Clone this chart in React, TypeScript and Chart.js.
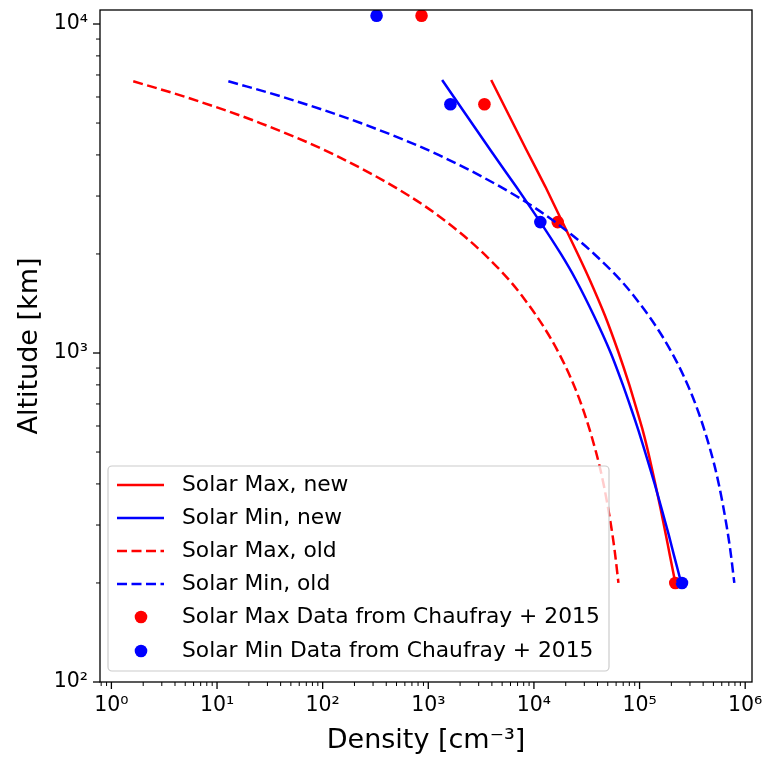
import React, { useEffect, useRef } from 'react';
import { Chart, registerables } from 'chart.js';

Chart.register(...registerables);

const FONT = "'DejaVu Sans', 'Liberation Sans', sans-serif";

// Model curves (altitude in km, density in cm^-3)
const altitudesOld = [200, 250, 300, 400, 500, 700, 1000, 1500, 2000, 2500, 3000, 4000, 5000, 6000, 6700];
const solarMaxOld = [63100, 58200, 53600, 45600, 38700, 28000, 17200, 7610, 3370, 1495, 663, 130, 25.6, 5.03, 1.61];
const solarMinOld = [789000, 725000, 665000, 562000, 474000, 338000, 203000, 86900, 37200, 15900, 6800, 1250, 229, 41.9, 12.8];

const altitudesNew = [200, 243, 280, 333, 400, 490, 580, 671, 800, 1007, 1300, 1667, 2000, 2500, 3200, 4140, 6760];
const solarMaxNew = [218000, 193500, 177500, 159000, 141000, 122500, 107500, 94200, 80000, 63000, 47000, 33800, 26000, 18600, 12850, 8500, 3940];
const solarMinNew = [248000, 211500, 189000, 163000, 139000, 115000, 97900, 84100, 69500, 52900, 36900, 25000, 18000, 11500, 6800, 3870, 1352];

// Chaufray et al. 2015 data points
const altitudesData = [200, 2500, 5700, 10600];
const solarMaxData = [218000, 16800, 3400, 863];
const solarMinData = [252000, 11500, 1620, 324];

// Axis ticks
const xTickValues = [1, 10, 100, 1000, 10000, 100000, 1000000];
const xTickLabels = ['10⁰', '10¹', '10²', '10³', '10⁴', '10⁵', '10⁶'];
const yTickValues = [100, 1000, 10000];
const yTickLabels = ['10²', '10³', '10⁴'];

const legendLabels = [
  'Solar Max, new',
  'Solar Min, new',
  'Solar Max, old',
  'Solar Min, old',
  'Solar Max Data from Chaufray + 2015',
  'Solar Min Data from Chaufray + 2015',
];

const RED = '#ff0000';
const BLUE = '#0000ff';
const DASH = [10, 4.5];

const toPoints = (xs: number[], ys: number[]) =>
  xs.map((x, i) => ({ x, y: ys[i] })).sort((a, b) => a.x - b.x);

const framePlugin = {
  id: 'frameAndLegend',
  afterDraw(chart: any) {
    const { ctx, chartArea } = chart;
    const { left, right, top, bottom } = chartArea;
    const xs = chart.scales.x;
    const ys = chart.scales.y;
    ctx.save();
    ctx.strokeStyle = '#000';
    ctx.lineWidth = 1.3;
    ctx.strokeRect(left, top, right - left, bottom - top);

    // x ticks
    for (let d = -1; d <= 6; d++) {
      for (let k = 1; k <= 9; k++) {
        const v = k * Math.pow(10, d);
        const px = xs.getPixelForValue(v);
        if (px < left - 0.5 || px > right + 0.5) continue;
        const len = k === 1 ? 7 : 4;
        ctx.lineWidth = k === 1 ? 1.3 : 1;
        ctx.beginPath();
        ctx.moveTo(px, bottom);
        ctx.lineTo(px, bottom + len);
        ctx.stroke();
      }
    }
    // y ticks
    for (let d = 2; d <= 4; d++) {
      for (let k = 1; k <= 9; k++) {
        const v = k * Math.pow(10, d);
        const py = ys.getPixelForValue(v);
        if (py < top - 0.5 || py > bottom + 0.5) continue;
        const len = k === 1 ? 7 : 4;
        ctx.lineWidth = k === 1 ? 1.3 : 1;
        ctx.beginPath();
        ctx.moveTo(left, py);
        ctx.lineTo(left - len, py);
        ctx.stroke();
      }
    }

    // legend
    const bx = left + 8;
    const bw = 501;
    const bh = 205;
    const by = bottom - 11 - bh;
    const r = 4;
    ctx.beginPath();
    ctx.moveTo(bx + r, by);
    ctx.lineTo(bx + bw - r, by);
    ctx.arcTo(bx + bw, by, bx + bw, by + r, r);
    ctx.lineTo(bx + bw, by + bh - r);
    ctx.arcTo(bx + bw, by + bh, bx + bw - r, by + bh, r);
    ctx.lineTo(bx + r, by + bh);
    ctx.arcTo(bx, by + bh, bx, by + bh - r, r);
    ctx.lineTo(bx, by + r);
    ctx.arcTo(bx, by, bx + r, by, r);
    ctx.closePath();
    ctx.fillStyle = 'rgba(255,255,255,0.8)';
    ctx.fill();
    ctx.strokeStyle = '#cccccc';
    ctx.lineWidth = 1.2;
    ctx.stroke();

    const colors = [RED, BLUE, RED, BLUE, RED, BLUE];
    ctx.font = `21.8px ${FONT}`;
    ctx.textBaseline = 'middle';
    ctx.textAlign = 'left';
    for (let i = 0; i < legendLabels.length; i++) {
      const cy = by + 19 + i * 33 + (i === 5 ? 1 : 0);
      ctx.strokeStyle = colors[i];
      ctx.fillStyle = colors[i];
      if (i < 4) {
        ctx.lineWidth = 2.5;
        ctx.setLineDash(i >= 2 ? DASH : []);
        ctx.beginPath();
        ctx.moveTo(bx + 9, cy);
        ctx.lineTo(bx + 56, cy);
        ctx.stroke();
        ctx.setLineDash([]);
      } else {
        ctx.beginPath();
        ctx.arc(bx + 33, cy, 6.3, 0, Math.PI * 2);
        ctx.fill();
      }
      ctx.fillStyle = '#000';
      ctx.fillText(legendLabels[i], bx + 74, cy);
    }
    ctx.restore();
  },
};

export default function App() {
  const canvasRef = useRef<HTMLCanvasElement | null>(null);

  useEffect(() => {
    if (!canvasRef.current) return;
    const lineDs = (label: string, xs: number[], ys: number[], color: string, dashed: boolean, order: number) => ({
      type: 'line' as const,
      label,
      data: toPoints(xs, ys),
      borderColor: color,
      backgroundColor: color,
      borderWidth: 2.5,
      borderDash: dashed ? DASH : [],
      pointRadius: 0,
      showLine: true,
      fill: false,
      ...(dashed ? { cubicInterpolationMode: 'monotone' as const } : { tension: 0.2 }),
      order,
    });
    const scatterDs = (label: string, xs: number[], ys: number[], color: string, order: number) => ({
      type: 'scatter' as const,
      label,
      data: toPoints(xs, ys),
      backgroundColor: color,
      borderColor: color,
      borderWidth: 0,
      pointRadius: 6.3,
      showLine: false,
      clip: 0,
      order,
    });

    const chart = new Chart(canvasRef.current, {
      type: 'scatter',
      data: {
        datasets: [
          lineDs(legendLabels[0], solarMaxNew, altitudesNew, RED, false, 4),
          lineDs(legendLabels[1], solarMinNew, altitudesNew, BLUE, false, 3),
          lineDs(legendLabels[2], solarMaxOld, altitudesOld, RED, true, 2),
          lineDs(legendLabels[3], solarMinOld, altitudesOld, BLUE, true, 1),
          scatterDs(legendLabels[4], solarMaxData, altitudesData, RED, 6),
          scatterDs(legendLabels[5], solarMinData, altitudesData, BLUE, 5),
        ] as any,
      },
      options: {
        animation: false,
        responsive: true,
        maintainAspectRatio: false,
        layout: { padding: { left: 0, right: 13, top: 10, bottom: 0 } },
        plugins: {
          legend: { display: false },
          tooltip: { enabled: false },
        },
        scales: {
          x: {
            type: 'logarithmic',
            min: 0.78,
            max: 1.16e6,
            afterBuildTicks: (s: any) => {
              s.ticks = xTickValues.map((v) => ({ value: v, major: true }));
            },
            afterFit: (s: any) => {
              s.height = 75;
              s.paddingLeft = 0;
              s.paddingRight = 0;
            },
            grid: { display: false, drawTicks: false },
            border: { display: false },
            ticks: {
              autoSkip: false,
              maxRotation: 0,
              padding: 11,
              color: '#000',
              font: { family: FONT, size: 20.5 },
              callback: (_v: any, i: number) => xTickLabels[i],
            },
            title: {
              display: true,
              text: 'Density [cm⁻³]',
              color: '#000',
              font: { family: FONT, size: 27 },
              padding: { top: 0, bottom: 0 },
            },
          },
          y: {
            type: 'logarithmic',
            min: 100,
            max: 11030,
            afterBuildTicks: (s: any) => {
              s.ticks = yTickValues.map((v) => ({ value: v, major: true }));
            },
            afterFit: (s: any) => {
              s.width = 100;
              s.paddingTop = 0;
              s.paddingBottom = 0;
            },
            grid: { display: false, drawTicks: false },
            border: { display: false },
            ticks: {
              autoSkip: false,
              padding: 12,
              color: '#000',
              font: { family: FONT, size: 20.5 },
              callback: (_v: any, i: number) => yTickLabels[i],
            },
            title: {
              display: true,
              text: 'Altitude [km]',
              color: '#000',
              font: { family: FONT, size: 27 },
              padding: { top: 14, bottom: 0 },
            },
          },
        },
      } as any,
      plugins: [framePlugin],
    });
    return () => chart.destroy();
  }, []);

  return (
    <div style={{ position: 'absolute', left: 0, top: 0, width: 765, height: 757 }}>
      <canvas ref={canvasRef} />
    </div>
  );
}
